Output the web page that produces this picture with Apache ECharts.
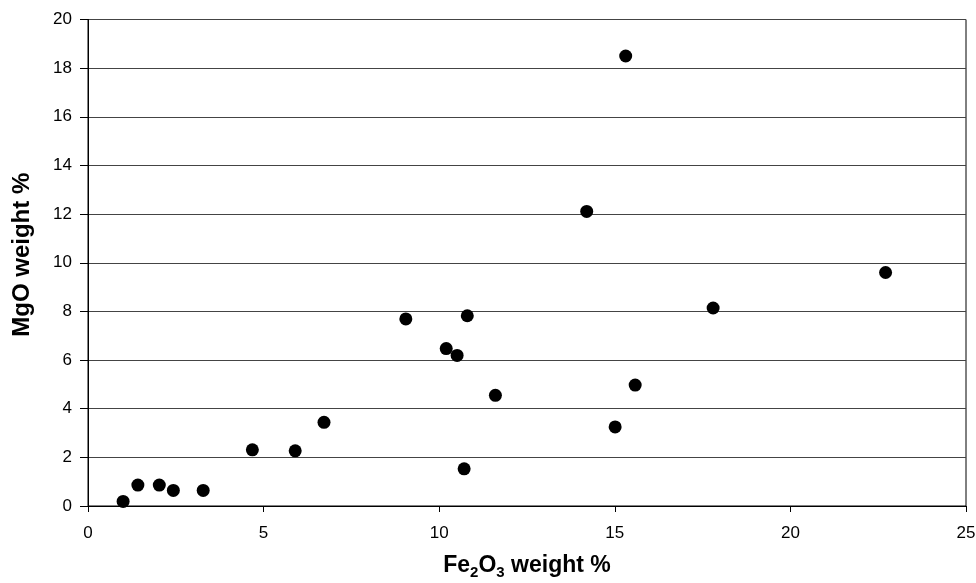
<!DOCTYPE html>
<html>
<head>
<meta charset="utf-8">
<script src="https://cdn.jsdelivr.net/npm/echarts@6/dist/echarts.min.js"></script>
<style>
html,body{margin:0;padding:0;background:#fff;}
#chart{width:976px;height:583px;}
</style>
</head>
<body>
<div id="chart"></div>
<script>
var fe2o3 = [1.0, 1.42, 2.03, 2.43, 3.28, 4.68, 5.90, 6.72, 9.05, 10.80, 10.20, 10.51, 11.60, 15.01, 10.71, 15.58, 14.20, 15.31, 17.80, 22.71];
var mgo   = [0.19, 0.86, 0.86, 0.64, 0.64, 2.31, 2.27, 3.44, 7.69, 7.82, 6.47, 6.19, 4.55, 3.25, 1.53, 4.97, 12.11, 18.5, 8.14, 9.60];
var xTicks = [0, 5, 10, 15, 20, 25];
var yTicks = [0, 2, 4, 6, 8, 10, 12, 14, 16, 18, 20];

var points = fe2o3.map(function (x, i) { return [x, mgo[i]]; });
var font = '"Liberation Sans", Arial, sans-serif';

var chart = echarts.init(document.getElementById('chart'), null, {renderer: 'canvas'});
chart.setOption({
  animation: false,
  backgroundColor: '#fff',
  grid: {left: 88, right: 10, top: 19.5, bottom: 77, containLabel: false, outerBoundsMode: 'none',
         show: true, borderColor: '#000', borderWidth: 1, backgroundColor: 'transparent'},
  xAxis: {
    type: 'value', min: xTicks[0], max: xTicks[xTicks.length - 1], interval: 5,
    name: 'Fe{s|2}O{s|3} weight %',
    nameLocation: 'middle', nameGap: 46,
    nameTextStyle: {
      fontFamily: font, fontSize: 23, fontWeight: 'bold', color: '#000',
      rich: {s: {fontFamily: font, fontSize: 15, fontWeight: 'bold', color: '#000', padding: [13, 0, 0, 0]}}
    },
    axisLine: {show: true, lineStyle: {color: '#000', width: 1}},
    axisTick: {show: true, length: 6, inside: false, lineStyle: {color: '#000'}},
    axisLabel: {fontFamily: font, fontSize: 17, color: '#000', margin: 19},
    splitLine: {show: false}
  },
  yAxis: {
    type: 'value', min: yTicks[0], max: yTicks[yTicks.length - 1], interval: 2,
    name: 'MgO weight %',
    nameLocation: 'middle', nameGap: 54,
    nameTextStyle: {fontFamily: font, fontSize: 24, fontWeight: 'bold', color: '#000', padding: [0, 0, 0, 16]},
    axisLine: {show: true, lineStyle: {color: '#000', width: 1}},
    axisTick: {show: true, length: 8, inside: false, lineStyle: {color: '#000'}},
    axisLabel: {fontFamily: font, fontSize: 17, color: '#000', margin: 16},
    splitLine: {show: true, lineStyle: {color: '#444', width: 1}}
  },
  series: [{
    type: 'scatter',
    data: points,
    symbol: 'circle',
    symbolSize: 13,
    itemStyle: {color: '#000', opacity: 1}
  }]
});
</script>
</body>
</html>
